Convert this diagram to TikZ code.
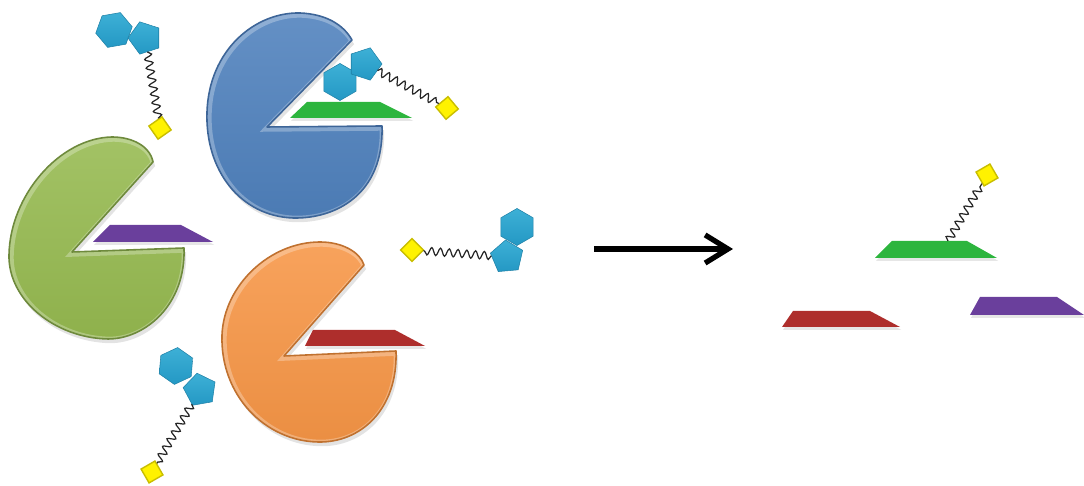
\documentclass[tikz,border=0pt]{standalone}
\usepackage{tikz}
\usetikzlibrary{shapes.geometric}
\usetikzlibrary{decorations.pathmorphing}
\usetikzlibrary{arrows.meta}
\usetikzlibrary{shadows}

\definecolor{enzblue}{HTML}{4F81BD}
\definecolor{enzblueline}{HTML}{3D6598}
\definecolor{enzgreen}{HTML}{96BA50}
\definecolor{enzgreenline}{HTML}{6E8A3C}
\definecolor{enzorange}{HTML}{F79646}
\definecolor{enzorangeline}{HTML}{C0712F}
\definecolor{slabpurple}{HTML}{6A3F9C}
\definecolor{slabred}{HTML}{AE2E2C}
\definecolor{slabgreen}{HTML}{2DB53E}
\definecolor{sugar}{HTML}{2498C4}
\definecolor{sugarlight}{HTML}{3DB0D6}
\definecolor{tag}{HTML}{FFF200}
\definecolor{tagline}{HTML}{C9BE00}

\tikzset{
    body/.style = {drop shadow = {opacity = 0.22, shadow xshift = 0.6pt, shadow yshift = -1.2pt}},
    rim/.style = {white, opacity = 0.28, line width = 2pt},
    hexa/.style = {regular polygon, regular polygon sides = 6, minimum size = 0.37cm, inner sep = 0pt,
        top color = sugarlight, bottom color = sugar, draw = sugar!85!black, line width = 0.15pt},
    penta/.style = {regular polygon, regular polygon sides = 5, minimum size = 0.34cm, inner sep = 0pt,
        top color = sugarlight, bottom color = sugar, draw = sugar!85!black, line width = 0.15pt},
    tagbox/.style = {rectangle, minimum size = 0.16cm, inner sep = 0pt, fill = tag, draw = tagline, line width = 0.4pt},
    linker/.style = {draw = black!85, line width = 0.35pt, decorate,
        decoration = {snake, amplitude = 1.1pt, segment length = 2.5pt}},
    slab/.style = {drop shadow = {opacity = 0.2, shadow xshift = 0.3pt, shadow yshift = -0.8pt}}
}

\begin{document}
\begin{tikzpicture}[x = 0.01cm, y = -0.01cm]
    \useasboundingbox (0,0) rectangle (1084,486);

    % outlines of the three enzymes (mouth opening to the right)
    \def\bluebody{(352,40) -- (267,127) -- (382,126) .. controls (384,195) and (335,219) .. (293,218) .. controls (240,216) and (205,170) .. (207,112) .. controls (209,50) and (255,12) .. (300,13) .. controls (325,14) and (343,24) .. (352,40) -- cycle}
    \def\greenbody{(153,162) -- (72,252) -- (184,248) .. controls (186,305) and (145,339) .. (108,339) .. controls (55,338) and (8,300) .. (9,255) .. controls (10,195) and (60,138) .. (112,137) .. controls (132,137) and (150,146) .. (153,162) -- cycle}
    \def\orangebody{(364,265) -- (284,356) -- (396,351) .. controls (398,410) and (360,443) .. (318,442) .. controls (265,441) and (220,395) .. (222,335) .. controls (224,285) and (270,242) .. (320,242) .. controls (342,242) and (360,252) .. (364,265) -- cycle}

    % blue enzyme
    \fill[body, top color = enzblue!88!white, bottom color = enzblue!95!black] \bluebody;
    \begin{scope}
        \clip \bluebody;
        \draw[rim, shift = {(1.2,1.2)}] \bluebody;
    \end{scope}
    \draw[enzblueline, line width = 0.45pt, line join = round] \bluebody;

    % green enzyme
    \fill[body, top color = enzgreen!88!white, bottom color = enzgreen!95!black] \greenbody;
    \begin{scope}
        \clip \greenbody;
        \draw[rim, shift = {(1.2,1.2)}] \greenbody;
    \end{scope}
    \draw[enzgreenline, line width = 0.45pt, line join = round] \greenbody;

    % orange enzyme
    \fill[body, top color = enzorange!88!white, bottom color = enzorange!95!black] \orangebody;
    \begin{scope}
        \clip \orangebody;
        \draw[rim, shift = {(1.2,1.2)}] \orangebody;
    \end{scope}
    \draw[enzorangeline, line width = 0.45pt, line join = round] \orangebody;

    % substrates held in the mouths
    \fill[slab, slabgreen] (307,102) -- (380,102) -- (412,118) -- (290,118) -- cycle;
    \fill[slab, slabpurple] (110,225) -- (181,225) -- (213,242) -- (93,242) -- cycle;
    \fill[slab, slabred] (313,330) -- (395,330) -- (425,346) -- (305,346) -- cycle;

    % free glycans
    \node[hexa, shape border rotate = 10] (hexA) at (114,30) {};
    \node[penta, shape border rotate = 18] (pentA) at (145,38) {};
    \node[tagbox, rotate = 35] (tagA) at (160,128) {};
    \draw[linker] (pentA) -- (tagA);

    \node[hexa, shape border rotate = 30] (hexB) at (340,82) {};
    \node[penta, shape border rotate = 54] (pentB) at (365,64) {};
    \node[tagbox, rotate = 40] (tagB) at (447,108) {};
    \draw[linker] (pentB) -- (tagB);

    \node[hexa, shape border rotate = 30] (hexC) at (517,227) {};
    \node[penta, shape border rotate = 5] (pentC) at (507,257) {};
    \node[tagbox, rotate = 45] (tagC) at (412,250) {};
    \draw[linker] (pentC) -- (tagC);

    \node[hexa, shape border rotate = 25] (hexD) at (176,366) {};
    \node[penta, shape border rotate = 10] (pentD) at (200,390) {};
    \node[tagbox, rotate = 30] (tagD) at (152,472) {};
    \draw[linker] (pentD) -- (tagD);

    % reaction arrow
    \coordinate (arrowfrom) at (594,249);
    \coordinate (arrowto) at (733,249);
    \draw[line width = 1.5pt, -{Straight Barb[length = 6.5pt, width = 8pt]}] (arrowfrom) -- (arrowto);

    % products
    \fill[slab, slabgreen] (892,241) -- (967,241) -- (997,258) -- (875,258) -- cycle;
    \fill[slab, slabred] (793,311) -- (870,311) -- (900,327) -- (782,327) -- cycle;
    \fill[slab, slabpurple] (980,297) -- (1057,297) -- (1084,315) -- (970,315) -- cycle;

    \coordinate (greenBtop) at (948,241);
    \node[tagbox, rotate = 30] (tagE) at (987,175) {};
    \draw[linker] (greenBtop) -- (tagE);
\end{tikzpicture}
\end{document}
